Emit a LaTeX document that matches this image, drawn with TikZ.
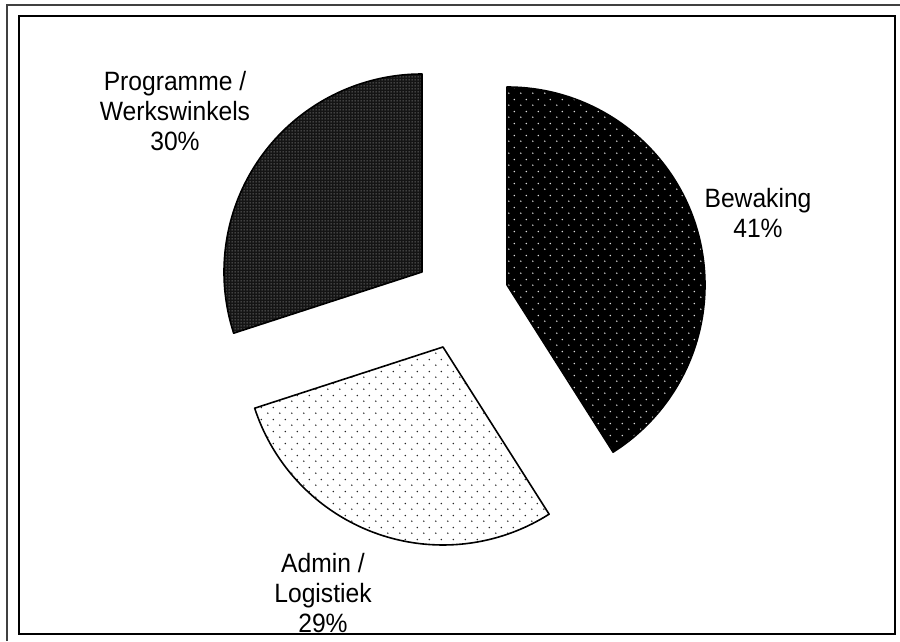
\documentclass[tikz,border=0pt]{standalone}
\usepackage{fontspec}
\setmainfont{Liberation Sans}
\newfontfamily\lblfont[FakeStretch=0.93]{Liberation Sans}
\usetikzlibrary{patterns.meta}
\tikzdeclarepattern{
  name=sparsedots, type=uncolored,
  bottom left={(0pt,0pt)}, top right={(11.5pt,11.6pt)},
  tile size={(11.5pt,11.6pt)},
  code={\fill (2.875pt,2.9pt) circle (0.85pt); \fill (8.625pt,8.7pt) circle (0.85pt);}
}
\tikzdeclarepattern{
  name=finedots, type=uncolored,
  bottom left={(0pt,0pt)}, top right={(3pt,3pt)}, tile size={(3pt,3pt)},
  code={\fill (0.9pt,0.9pt) rectangle (2.1pt,2.1pt);}
}
\tikzset{
  slice/.style={draw=black, line width=1.6pt, line join=round},
  lbl/.style={align=center, font=\lblfont\fontsize{26.5}{30}\selectfont, inner sep=0pt},
  frameline/.style={draw=black, line width=2pt},
  outerline/.style={draw=black!75, line width=1.4pt}
}
\begin{document}
\begin{tikzpicture}[x=1pt,y=1pt]
\useasboundingbox (0,0) rectangle (900,641);
\fill[white] (0,0) rectangle (900,641);
% frames
\draw[outerline] (7,0) -- (7,636) -- (900,636);
\draw[frameline] (19,7) rectangle (895,625);
% apexes
\coordinate (B) at (507,356);
\coordinate (A) at (443,294);
\coordinate (P) at (422,369);
% Bewaking 41%
\fill[black] (B) -- ++(90:198) arc[start angle=90, end angle=-57.6, radius=198] -- cycle;
\fill[pattern=sparsedots, pattern color=white!85!black] (B) -- ++(90:198) arc[start angle=90, end angle=-57.6, radius=198] -- cycle;
\draw[slice] (B) -- ++(90:198) arc[start angle=90, end angle=-57.6, radius=198] -- cycle;
% Admin 29%
\fill[white] (A) -- ++(-57.6:198) arc[start angle=-57.6, end angle=-162, radius=198] -- cycle;
\fill[pattern=sparsedots, pattern color=black!85] (A) -- ++(-57.6:198) arc[start angle=-57.6, end angle=-162, radius=198] -- cycle;
\draw[slice] (A) -- ++(-57.6:198) arc[start angle=-57.6, end angle=-162, radius=198] -- cycle;
% Programme 30%
\fill[black!92] (P) -- ++(198:198) arc[start angle=198, end angle=90, radius=198] -- cycle;
\fill[pattern=finedots, pattern color=black!50] (P) -- ++(198:198) arc[start angle=198, end angle=90, radius=198] -- cycle;
\draw[slice] (P) -- ++(198:198) arc[start angle=198, end angle=90, radius=198] -- cycle;
% labels
\node[lbl] (lbB) at (758,428) {Bewaking\\41\%};
\node[lbl] (lbP) at (175,530) {Programme /\\Werkswinkels\\30\%};
\node[lbl] (lbA) at (323,48) {Admin /\\Logistiek\\29\%};
\end{tikzpicture}
\end{document}
